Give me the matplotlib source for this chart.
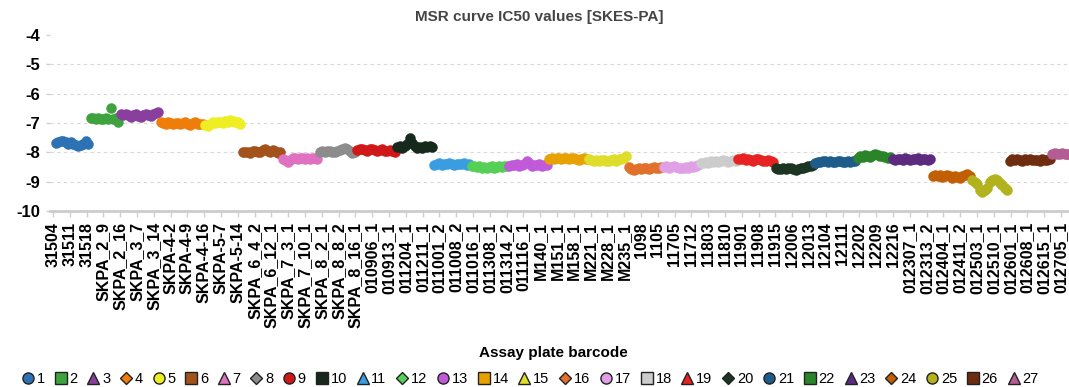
import numpy as np
import matplotlib
matplotlib.use('Agg')
import matplotlib.pyplot as plt
from matplotlib.lines import Line2D

plt.rcParams['font.family'] = ['Liberation Sans', 'DejaVu Sans']

# plate barcodes on the x axis
barcodes = ['31504', '31511', '31518', 'SKPA_2_9', 'SKPA_2_16', 'SKPA_3_7', 'SKPA_3_14',
            'SKPA-4-2', 'SKPA-4-9', 'SKPA-4-16', 'SKPA-5-7', 'SKPA-5-14',
            'SKPA_6_4_2', 'SKPA_6_12_1', 'SKPA_7_3_1', 'SKPA_7_10_1', 'SKPA_8_2_1',
            'SKPA_8_8_2', 'SKPA_8_16_1', '010906_1', '010913_1', '011204_1', '011211_1',
            '011001_2', '011008_2', '011016_1', '011308_1', '011314_2', '011116_1',
            'M140_1', 'M151_1', 'M158_1', 'M221_1', 'M228_1', 'M235_1',
            '1098', '1105', '11705', '11712', '11803', '11810', '11901', '11908', '11915',
            '12006', '12013', '12104', '12111', '12202', '12209', '12216',
            '012307_1', '012313_2', '012404_1', '012411_2', '012503_1', '012510_1',
            '012601_1', '012608_1', '012615_1', '012705_1']

# log IC50 values, one list per group (1..27)
g1 = [-7.68, -7.66, -7.62, -7.60, -7.65, -7.70, -7.66, -7.72, -7.76, -7.80, -7.74, -7.70, -7.62, -7.70]
g2 = [-6.84, -6.82, -6.86, -6.84, -6.85, -6.88, -6.83, -6.86, -6.50, -6.88, -6.84, -6.96]
g3 = [-6.68, -6.72, -6.70, -6.74, -6.78, -6.72, -6.70, -6.76, -6.80, -6.74, -6.70, -6.72, -6.76, -6.70, -6.65, -6.62]
g4 = [-6.96, -7.00, -7.03, -6.98, -7.00, -7.02, -6.99, -7.01, -7.05, -7.00, -6.98, -7.02, -7.06, -7.00, -6.98, -7.02, -7.04, -7.05]
g5 = [-7.06, -7.10, -7.02, -6.98, -7.00, -6.97, -6.95, -7.00, -6.94, -6.96, -6.90, -6.93, -6.95, -6.98, -7.02]
g6 = [-7.98, -8.00, -7.98, -8.02, -7.97, -7.95, -7.98, -8.00, -7.93, -7.90, -7.96, -8.00, -7.92, -7.97, -8.02, -7.98]
g7 = [-8.22, -8.26, -8.32, -8.25, -8.18, -8.20, -8.24, -8.20, -8.18, -8.22, -8.20, -8.24, -8.18, -8.20, -8.22]
g8 = [-7.98, -7.96, -8.00, -7.97, -7.95, -7.98, -8.00, -7.96, -7.92, -7.88, -7.84, -7.90, -7.96, -8.02, -7.98]
g9 = [-7.92, -7.90, -7.88, -7.92, -7.94, -7.90, -7.88, -7.92, -7.95, -7.92, -7.90, -7.94, -7.96, -7.92, -7.95, -7.98]
g10 = [-7.82, -7.78, -7.84, -7.80, -7.70, -7.52, -7.68, -7.80, -7.84, -7.82, -7.86, -7.80, -7.82, -7.78, -7.82]
g11 = [-8.42, -8.40, -8.38, -8.42, -8.40, -8.41, -8.38, -8.40, -8.42, -8.39, -8.41, -8.40, -8.38, -8.42, -8.40]
g12 = [-8.46, -8.48, -8.50, -8.47, -8.52, -8.49, -8.54, -8.50, -8.48, -8.52, -8.50, -8.47, -8.49, -8.46, -8.48]
g13 = [-8.45, -8.42, -8.44, -8.40, -8.46, -8.42, -8.40, -8.28, -8.38, -8.46, -8.42, -8.44, -8.40, -8.46, -8.44, -8.42]
g14 = [-8.24, -8.20, -8.22, -8.18, -8.20, -8.24, -8.21, -8.19, -8.22, -8.18, -8.20, -8.23, -8.26, -8.22, -8.20, -8.22]
g15 = [-8.24, -8.26, -8.28, -8.25, -8.30, -8.27, -8.25, -8.28, -8.30, -8.26, -8.24, -8.28, -8.22, -8.24, -8.18, -8.12]
g16 = [-8.50, -8.56, -8.60, -8.58, -8.55, -8.56, -8.52, -8.54, -8.56, -8.52, -8.50, -8.54, -8.52, -8.50]
g17 = [-8.50, -8.48, -8.52, -8.50, -8.46, -8.50, -8.54, -8.52, -8.55, -8.50, -8.52, -8.48, -8.50, -8.46, -8.44]
g18 = [-8.38, -8.36, -8.32, -8.35, -8.30, -8.33, -8.28, -8.32, -8.30, -8.26, -8.30, -8.32, -8.28, -8.26, -8.30]
g19 = [-8.22, -8.24, -8.20, -8.26, -8.22, -8.25, -8.28, -8.22, -8.24, -8.26, -8.28, -8.30, -8.26, -8.28, -8.32]
g20 = [-8.52, -8.56, -8.58, -8.54, -8.56, -8.52, -8.55, -8.58, -8.60, -8.56, -8.54, -8.52, -8.50, -8.48, -8.46, -8.42]
g21 = [-8.38, -8.34, -8.32, -8.30, -8.31, -8.33, -8.30, -8.32, -8.34, -8.31, -8.30, -8.32, -8.33, -8.30, -8.32, -8.31, -8.30]
g22 = [-8.18, -8.14, -8.16, -8.10, -8.14, -8.16, -8.08, -8.04, -8.10, -8.14, -8.12, -8.15, -8.18, -8.16]
g23 = [-8.22, -8.26, -8.24, -8.22, -8.25, -8.20, -8.24, -8.26, -8.22, -8.24, -8.20, -8.26, -8.24, -8.22, -8.26, -8.24]
g24 = [-8.82, -8.78, -8.80, -8.76, -8.84, -8.80, -8.78, -8.82, -8.86, -8.80, -8.84, -8.88, -8.82, -8.78, -8.74, -8.80]
g25 = [-8.96, -9.00, -9.08, -9.28, -9.36, -9.30, -9.20, -9.02, -8.94, -8.90, -8.96, -9.05, -9.10, -9.20, -9.28]
g26 = [-8.28, -8.24, -8.26, -8.22, -8.25, -8.28, -8.24, -8.26, -8.23, -8.27, -8.25, -8.26, -8.28, -8.24, -8.26, -8.25, -8.22]
g27 = [-8.06, -8.02, -8.04, -8.06, -8.03, -8.05, -8.06, -8.04, -8.05]

groups = [g1, g2, g3, g4, g5, g6, g7, g8, g9, g10, g11, g12, g13, g14, g15, g16, g17,
          g18, g19, g20, g21, g22, g23, g24, g25, g26, g27]
group_names = [str(i + 1) for i in range(len(groups))]

colors = ['#2d72b4', '#3ea33e', '#8a3f9f', '#ee7d0a', '#eeee22', '#a3521c', '#e070c0',
          '#8c8c8c', '#d01818', '#17281c', '#3a9de0', '#55cf55', '#c05ad8', '#e8a200',
          '#dede2a', '#e0702a', '#e0a0e6', '#cccccc', '#e62222', '#1c3522', '#1e5c8c',
          '#2a842a', '#5c2a7e', '#c25e04', '#b2b21c', '#6e2c10', '#b45c94']
markers = ['o', 's', '^', 'D']

fig = plt.figure(figsize=(10.69, 3.87), dpi=100)
ax = fig.add_axes([50 / 1069, 1 - 211 / 387, 1 - 50 / 1069, 176 / 387])

start = 0
for k, vals in enumerate(groups):
    x = np.arange(start, start + len(vals))
    ax.scatter(x, vals, s=52, color=colors[k], edgecolors=colors[k], linewidths=0.3, zorder=3)
    start += len(vals)

ax.set_xlim(-2.4, 406.8)
ax.set_ylim(-10, -4)

# barcodes evenly spread along the axis
ax.set_xticks(np.linspace(-1.2, 403.6, len(barcodes)))
ax.set_xticklabels(barcodes, rotation=90, fontsize=11.5, fontweight='bold')
ax.set_yticks(np.arange(-10, -3))
ax.set_yticklabels([str(v) for v in range(-10, -3)], fontsize=12, fontweight='bold')

ax.tick_params(axis='x', length=4, width=1, color='#d0d0d0', pad=4)
ax.tick_params(axis='y', length=3, width=1, color='#d0d0d0', pad=4)

ax.yaxis.grid(True, ls=(0, (3, 3)), color='#d8d8d8', lw=0.8)
ax.get_ygridlines()[-1].set_visible(False)
ax.get_ygridlines()[0].set_visible(False)

for side in ['top', 'right', 'left']:
    ax.spines[side].set_visible(False)
ax.spines['bottom'].set_color('#cccccc')
ax.spines['bottom'].set_linewidth(2)

fig.text(539 / 1069, 1 - 17 / 387, 'MSR curve IC50 values [SKES-PA]', ha='center', va='center',
         fontsize=11, fontweight='bold', color='#444444')
fig.text(553 / 1069, 1 - 353 / 387, 'Assay plate barcode', ha='center', va='center',
         fontsize=11, fontweight='bold')

handles = []
for k in range(len(groups)):
    m = markers[k % 4]
    ms = 8 if m != 'D' else 6.5
    handles.append(Line2D([], [], ls='', marker=m, ms=ms, mfc=colors[k], mec='#222222', mew=1))
fig.legend(handles, group_names, loc='center', bbox_to_anchor=(530 / 1069, 1 - 379 / 387),
           ncol=len(groups), frameon=False, fontsize=10.5, handlelength=0.9,
           handletextpad=0.15, columnspacing=0.63, borderpad=0)

plt.savefig('out.png', dpi=100)
